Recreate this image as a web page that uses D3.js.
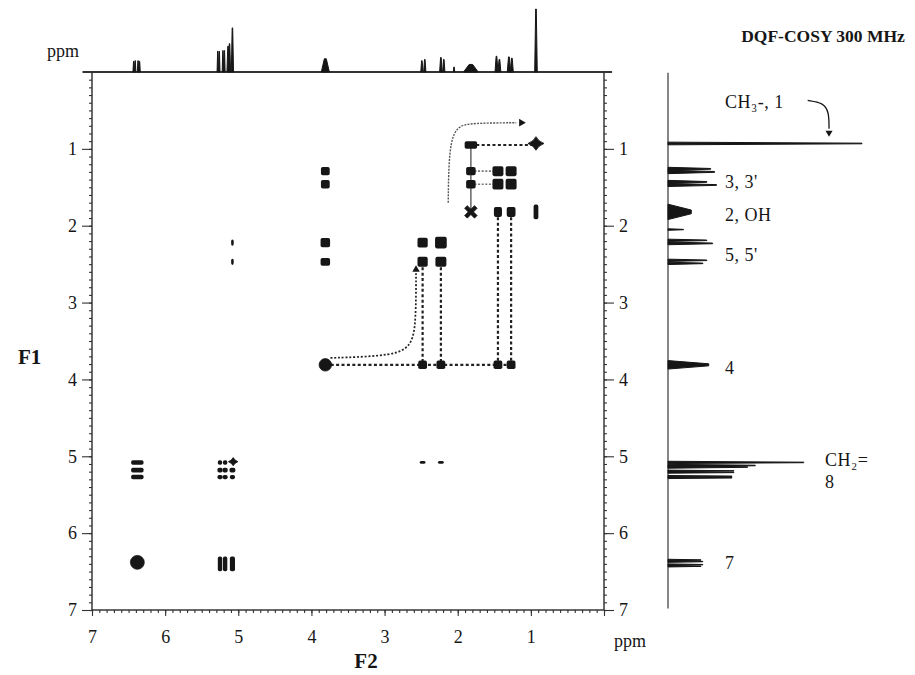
<!DOCTYPE html>
<html><head><meta charset="utf-8">
<script src="https://cdn.jsdelivr.net/npm/d3@7"></script>
<style>
html,body{margin:0;padding:0;background:#fff;}
svg{display:block;font-family:"Liberation Serif","Times New Roman",serif;}
svg text{font-family:"Liberation Serif","Times New Roman",serif;}
</style></head><body>
<svg id="chart" width="915" height="675"></svg>
<script>
// ---- axis ticks (ppm) ----
const f2TickLabels = [7, 6, 5, 4, 3, 2, 1];
const f1TickLabels = [1, 2, 3, 4, 5, 6, 7];

// ---- 1D 1H spectrum: line positions (ppm), relative intensity, linewidth (ppm) ----
const linePpm   = [6.43, 6.41, 6.37, 6.35, 5.28, 5.26, 5.21, 5.19, 5.14, 5.12, 5.08, 3.81, 2.49, 2.45, 2.23, 2.19, 2.05, 1.82, 1.47, 1.43, 1.30, 1.26, 0.93];
const lineInt   = [17,   18,   18,   17,   33,   33,   34,   34,   41,   45,   70,   21,   18,   20,   23,   20,   8,    12,   25,   20,   24,   22,   100];
const lineWidth = [0.02, 0.02, 0.02, 0.02, 0.02, 0.02, 0.02, 0.02, 0.03, 0.03, 0.03, 0.11, 0.03, 0.03, 0.035,0.03, 0.02, 0.2,  0.04, 0.04, 0.045,0.04, 0.035];

// ---- DQF-COSY cross peaks: [F2 ppm, F1 ppm, F2 extent, F1 extent] ----
const crossPeaks = [
  // H-7 / H-8
  [5.25, 6.40, 0.06, 0.19], [5.18, 6.40, 0.06, 0.19], [5.08, 6.40, 0.07, 0.19],
  [6.38, 5.08, 0.17, 0.06], [6.38, 5.18, 0.17, 0.06], [6.38, 5.27, 0.17, 0.06],
  // H-8 multiplet on the diagonal
  [5.25, 5.08, 0.06, 0.06], [5.18, 5.08, 0.06, 0.06],
  [5.25, 5.18, 0.07, 0.06], [5.18, 5.18, 0.07, 0.06], [5.08, 5.18, 0.08, 0.06],
  [5.25, 5.27, 0.07, 0.055], [5.18, 5.27, 0.07, 0.055], [5.08, 5.27, 0.07, 0.055],
  // H-8 / H-5 (long range)
  [5.08, 2.22, 0.035, 0.08], [5.08, 2.47, 0.035, 0.08],
  // H-4
  [3.81, 1.29, 0.12, 0.11], [3.81, 1.46, 0.12, 0.11], [3.81, 2.22, 0.13, 0.12], [3.81, 2.47, 0.13, 0.1],
  // H-5, H-5'
  [2.48, 2.22, 0.14, 0.13], [2.23, 2.22, 0.16, 0.15], [2.48, 2.47, 0.14, 0.13], [2.23, 2.47, 0.15, 0.13],
  [2.48, 3.81, 0.12, 0.11], [2.23, 3.81, 0.12, 0.11],
  [2.48, 5.08, 0.08, 0.035], [2.23, 5.08, 0.08, 0.035],
  // H-2
  [1.82, 0.95, 0.17, 0.1], [1.82, 1.29, 0.13, 0.11], [1.82, 1.46, 0.13, 0.11],
  // H-3, H-3'
  [1.45, 1.29, 0.15, 0.13], [1.27, 1.29, 0.15, 0.13], [1.45, 1.46, 0.15, 0.14], [1.27, 1.46, 0.15, 0.14],
  [1.45, 1.82, 0.11, 0.13], [1.27, 1.82, 0.12, 0.13],
  [1.45, 3.81, 0.12, 0.11], [1.27, 3.81, 0.12, 0.11],
  // H-1
  [0.93, 1.82, 0.065, 0.19]
];

// ---- diagonal peaks: ppm, contour kind, extent (ppm) ----
const diagPpm    = [6.38, 5.07, 3.81, 1.82, 0.93];
const diagKind   = ["round", "star", "round", "cross", "star"];
const diagExtent = [0.19, 0.13, 0.17, 0.18, 0.22];

// ---- connectivity traces (F2, F1 in ppm) ----
const dashedTraces = [
  [[3.81, 3.81], [1.27, 3.81]],
  [[2.48, 2.47], [2.48, 3.81]],
  [[2.23, 2.47], [2.23, 3.81]],
  [[1.45, 1.82], [1.45, 3.81]],
  [[1.27, 1.82], [1.27, 3.81]],
  [[1.82, 0.95], [0.93, 0.95]]
];
const dottedTraces = [
  [[1.82, 1.29], [1.45, 1.29]],
  [[1.82, 1.46], [1.45, 1.46]]
];
const solidTraces = [
  [[1.82, 0.95], [1.82, 1.82]]
];
// curved arrow from H-4 up towards H-5
const arrowH4 = [[3.74, 3.72], [3.05, 3.70], [2.62, 3.62], [2.57, 3.2], [2.57, 2.62]];
// curved arrow from H-2 towards H-1
const arrowH2 = [[2.13, 1.70], [2.12, 0.98], [2.02, 0.70], [1.8, 0.665], [1.2, 0.66]];

// ---- projection labels: text, F1 anchor ppm, column ----
const peakLabels = [
  {t: "CH\u2083-, 1", ppm: 0.39, col: 0},
  {t: "3, 3'", ppm: 1.43, col: 0},
  {t: "2,  OH", ppm: 1.86, col: 0},
  {t: "5, 5'", ppm: 2.38, col: 0},
  {t: "4", ppm: 3.85, col: 0},
  {t: "CH\u2082=", ppm: 5.04, col: 1},
  {t: "8", ppm: 5.33, col: 1},
  {t: "7", ppm: 6.38, col: 0}
];

const svg = d3.select("#chart");
const ink = "#161616";
const serif = "'Liberation Serif', 'Times New Roman', serif";

// scales
const x = d3.scaleLinear().domain([7, 0]).range([92, 604]);
const y = d3.scaleLinear().domain([0, 7]).range([72, 610]);
const topAmp = d3.scaleLinear().domain([0, 100]).range([72, 9]);
const sideAmp = d3.scaleLinear().domain([0, 100]).range([668, 862]);

// ---- frame and axes ----
const minor = d3.range(0, 71).map(d => d / 10);
const intFmt = d3.format("d");

function styleAxis(g) {
  g.attr("font-family", null).attr("font-size", null);
  g.select(".domain").remove();
  g.selectAll("line").attr("stroke", "#333").attr("stroke-width", 1.1);
  g.selectAll("text").style("font-family", serif).attr("font-size", 18).attr("fill", ink);
}

svg.append("g").attr("transform", `translate(0,${y(7)})`)
  .call(d3.axisBottom(x).tickValues(minor).tickSize(3).tickFormat("")).call(styleAxis);
svg.append("g").attr("transform", `translate(0,${y(7)})`)
  .call(d3.axisBottom(x).tickValues(f2TickLabels.concat([0])).tickSize(6).tickPadding(14)
    .tickFormat(d => d === 0 ? "" : intFmt(d))).call(styleAxis);

svg.append("g").attr("transform", `translate(${x(7)},0)`)
  .call(d3.axisLeft(y).tickValues(minor).tickSize(3).tickFormat("")).call(styleAxis);
svg.append("g").attr("transform", `translate(${x(7)},0)`)
  .call(d3.axisLeft(y).tickValues(f1TickLabels).tickSize(10).tickPadding(5).tickFormat(intFmt)).call(styleAxis);

svg.append("g").attr("transform", `translate(${x(0)},0)`)
  .call(d3.axisRight(y).tickValues(minor).tickSize(3).tickFormat("")).call(styleAxis);
svg.append("g").attr("transform", `translate(${x(0)},0)`)
  .call(d3.axisRight(y).tickValues(f1TickLabels).tickSize(10).tickPadding(5).tickFormat(intFmt)).call(styleAxis);

svg.append("rect")
  .attr("x", x(7)).attr("y", y(0))
  .attr("width", x(0) - x(7)).attr("height", y(7) - y(0))
  .attr("fill", "none").attr("stroke", "#2a2a2a").attr("stroke-width", 1.4);

// ---- top projection (F2) ----
svg.append("line")
  .attr("x1", x(7.13)).attr("x2", x(-0.11)).attr("y1", topAmp(0)).attr("y2", topAmp(0))
  .attr("stroke", "#333").attr("stroke-width", 1.8);

function topPoly(i) {
  const p = linePpm[i], h = lineInt[i], w = lineWidth[i];
  return [[x(p + w / 2), topAmp(0)], [x(p + w * 0.12), topAmp(h)], [x(p - w * 0.12), topAmp(h)], [x(p - w / 2), topAmp(0)]];
}
function sidePoly(i) {
  const p = linePpm[i], h = lineInt[i], w = lineWidth[i];
  return [[sideAmp(0), y(p - w / 2)], [sideAmp(h), y(p - w * 0.12)], [sideAmp(h), y(p + w * 0.12)], [sideAmp(0), y(p + w / 2)]];
}
const polyLine = d3.line();

svg.append("g").selectAll("path").data(d3.range(linePpm.length)).join("path")
  .attr("d", i => polyLine(topPoly(i)) + "Z")
  .attr("fill", ink).attr("stroke", ink).attr("stroke-width", 1).attr("stroke-linejoin", "round");

// ---- side projection (F1) ----
svg.append("line")
  .attr("x1", sideAmp(0)).attr("x2", sideAmp(0)).attr("y1", y(0.01)).attr("y2", y(6.98))
  .attr("stroke", "#444").attr("stroke-width", 1.3);

svg.append("g").selectAll("path").data(d3.range(linePpm.length)).join("path")
  .attr("d", i => polyLine(sidePoly(i)) + "Z")
  .attr("fill", ink).attr("stroke", ink).attr("stroke-width", 1).attr("stroke-linejoin", "round");

// labels next to the side projection
const labelCols = [sideAmp(0) + 57, sideAmp(0) + 157];
svg.append("g").selectAll("text").data(peakLabels).join("text")
  .attr("x", d => labelCols[d.col]).attr("y", d => y(d.ppm)).attr("dy", "0.35em")
  .attr("font-size", 18).attr("fill", ink).attr("letter-spacing", 0.5)
  .text(d => d.t);

// arrow from the CH3 label to its line
const ch3Arrow = [[72, 0.37], [80, 0.40], [83, 0.52], [83, 0.74]];
svg.append("path")
  .attr("d", d3.line().curve(d3.curveBasis).x(d => sideAmp(d[0])).y(d => y(d[1]))(ch3Arrow))
  .attr("fill", "none").attr("stroke", ink).attr("stroke-width", 1.3);
svg.append("path")
  .attr("d", d3.symbol(d3.symbolTriangle, 22)())
  .attr("transform", `translate(${sideAmp(83)},${y(0.79)}) rotate(180)`)
  .attr("fill", ink);

// ---- traces ----
const ppmLine = d3.line().x(d => x(d[0])).y(d => y(d[1]));
svg.append("g").selectAll("path").data(dashedTraces).join("path")
  .attr("d", ppmLine).attr("fill", "none").attr("stroke", "#222")
  .attr("stroke-width", 2.2).attr("stroke-dasharray", "3,2.4");
svg.append("g").selectAll("path").data(dottedTraces).join("path")
  .attr("d", ppmLine).attr("fill", "none").attr("stroke", "#777")
  .attr("stroke-width", 1.6).attr("stroke-dasharray", "2,1.6");
svg.append("g").selectAll("path").data(solidTraces).join("path")
  .attr("d", ppmLine).attr("fill", "none").attr("stroke", "#666").attr("stroke-width", 1.5);

// curved arrows
const smooth = d3.line().curve(d3.curveBasis).x(d => x(d[0])).y(d => y(d[1]));
svg.append("path").attr("d", smooth(arrowH4))
  .attr("fill", "none").attr("stroke", "#222").attr("stroke-width", 1.7).attr("stroke-dasharray", "2,1.8");
svg.append("path")
  .attr("d", d3.symbol(d3.symbolTriangle, 24)())
  .attr("transform", `translate(${x(2.57)},${y(2.57)})`)
  .attr("fill", ink);

svg.append("path").attr("d", smooth(arrowH2))
  .attr("fill", "none").attr("stroke", "#555").attr("stroke-width", 1.4).attr("stroke-dasharray", "2,1.2");
svg.append("path")
  .attr("d", d3.symbol(d3.symbolTriangle, 26)())
  .attr("transform", `translate(${x(1.13)},${y(0.66)}) rotate(90)`)
  .attr("fill", ink);

// ---- cross peaks ----
svg.append("g").selectAll("rect").data(crossPeaks).join("rect")
  .attr("x", d => x(d[0] + d[2] / 2)).attr("y", d => y(d[1] - d[3] / 2))
  .attr("width", d => x(d[0] - d[2] / 2) - x(d[0] + d[2] / 2))
  .attr("height", d => y(d[1] + d[3] / 2) - y(d[1] - d[3] / 2))
  .attr("rx", 1.8).attr("fill", ink);

// ---- diagonal peaks ----
function diagPath(kind, cx, cy, r) {
  const p = d3.path();
  if (kind === "round") {
    p.arc(cx, cy, r, 0, 2 * Math.PI);
  } else if (kind === "star") {
    const k = r * 0.28;
    p.moveTo(cx - r, cy);
    p.quadraticCurveTo(cx - k, cy - k, cx, cy - r * 0.85);
    p.quadraticCurveTo(cx + k, cy - k, cx + r, cy);
    p.quadraticCurveTo(cx + k, cy + k, cx, cy + r * 0.85);
    p.quadraticCurveTo(cx - k, cy + k, cx - r, cy);
    p.closePath();
  } else {
    const a = r * 0.95, b = r * 0.4;
    p.moveTo(cx - a, cy - a + b); p.lineTo(cx - a + b, cy - a); p.lineTo(cx, cy - b);
    p.lineTo(cx + a - b, cy - a); p.lineTo(cx + a, cy - a + b); p.lineTo(cx + b, cy);
    p.lineTo(cx + a, cy + a - b); p.lineTo(cx + a - b, cy + a); p.lineTo(cx, cy + b);
    p.lineTo(cx - a + b, cy + a); p.lineTo(cx - a, cy + a - b); p.lineTo(cx - b, cy);
    p.closePath();
  }
  return p.toString();
}
svg.append("g").selectAll("path").data(d3.range(diagPpm.length)).join("path")
  .attr("d", i => diagPath(diagKind[i], x(diagPpm[i]), y(diagPpm[i]), (x(diagPpm[i] - diagExtent[i] / 2) - x(diagPpm[i]))))
  .attr("fill", ink).attr("stroke", ink).attr("stroke-width", 0.8);

// ---- titles ----
svg.append("text").attr("x", 823).attr("y", 42).attr("text-anchor", "middle")
  .attr("font-size", 17.5).attr("font-weight", "bold").attr("fill", ink).text("DQF-COSY 300 MHz");
svg.append("text").attr("x", 79).attr("y", 57).attr("text-anchor", "end")
  .attr("font-size", 18).attr("fill", ink).text("ppm");
svg.append("text").attr("x", 614).attr("y", 647)
  .attr("font-size", 18).attr("fill", ink).text("ppm");
svg.append("text").attr("x", (x(7) + x(0)) / 2 + 18).attr("y", 668).attr("text-anchor", "middle")
  .attr("font-size", 21).attr("font-weight", "bold").attr("fill", ink).text("F2");
svg.append("text").attr("x", 18).attr("y", 364)
  .attr("font-size", 21).attr("font-weight", "bold").attr("fill", ink).text("F1");
</script>
</body></html>
